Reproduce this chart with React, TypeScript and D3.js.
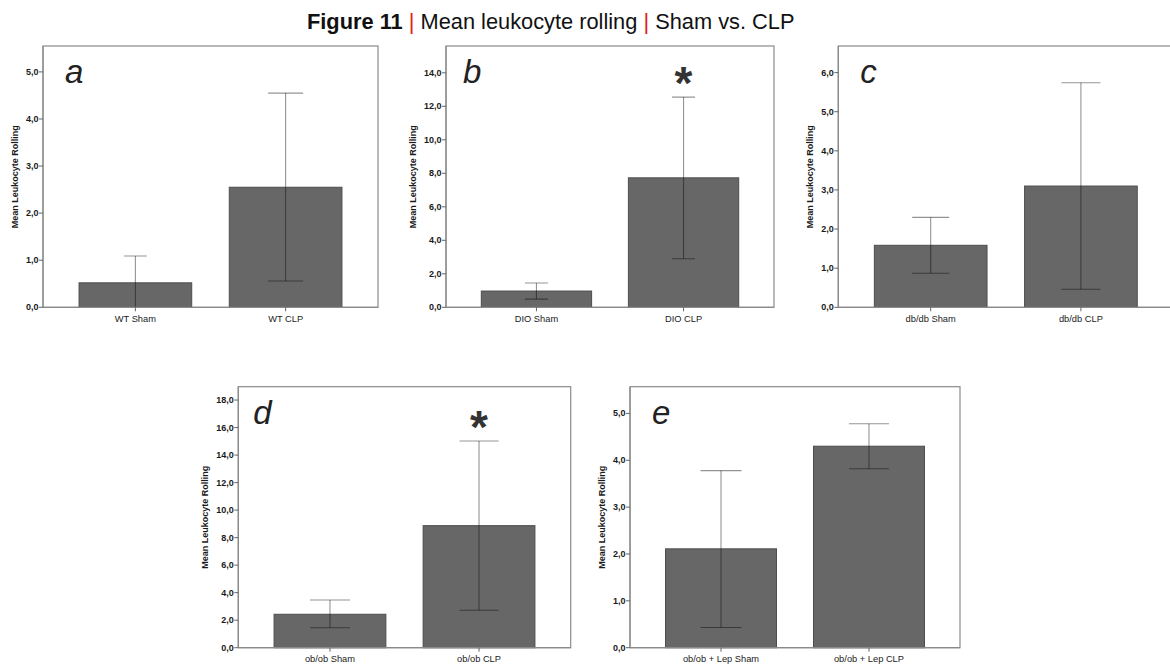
import React from "react";
import * as d3 from "d3";

// Mean leukocyte rolling, Sham vs. CLP, for five mouse strains
const panelLetters = ["a", "b", "c", "d", "e"];
const categoriesA = ["WT Sham", "WT CLP"];
const categoriesB = ["DIO Sham", "DIO CLP"];
const categoriesC = ["db/db Sham", "db/db CLP"];
const categoriesD = ["ob/ob Sham", "ob/ob CLP"];
const categoriesE = ["ob/ob + Lep Sham", "ob/ob + Lep CLP"];

const meansA = [0.52, 2.55];
const meansB = [0.97, 7.73];
const meansC = [1.585, 3.1];
const meansD = [2.43, 8.87];
const meansE = [2.11, 4.3];

const upperA = [1.09, 4.55];
const upperB = [1.45, 12.55];
const upperC = [2.3, 5.74];
const upperD = [3.47, 15.02];
const upperE = [3.78, 4.78];

const lowerA = [-0.05, 0.56];
const lowerB = [0.49, 2.9];
const lowerC = [0.87, 0.46];
const lowerD = [1.45, 2.72];
const lowerE = [0.43, 3.82];

const significant = [[false, false], [false, true], [false, false], [false, true], [false, false]];

const ticksA = [0, 1, 2, 3, 4, 5];
const ticksB = [0, 2, 4, 6, 8, 10, 12, 14];
const ticksC = [0, 1, 2, 3, 4, 5, 6];
const ticksD = [0, 2, 4, 6, 8, 10, 12, 14, 16, 18];
const ticksE = [0, 1, 2, 3, 4, 5];

// value at the top edge of each frame
const yTopA = 5.55;
const yTopB = 15.6;
const yTopC = 6.68;
const yTopD = 18.97;
const yTopE = 5.57;

const yLabel = "Mean Leukocyte Rolling";

// Frame geometry and cosmetic settings per panel
const layouts = [
  { x: 43, y: 46, w: 335, h: 261.3, labelX: 15, letterDx: 22, caps: [23, 35] },
  { x: 446, y: 46, w: 328, h: 261.3, labelX: 412.7, letterDx: 17, caps: [23, 23] },
  { x: 838.3, y: 46, w: 335, h: 261.3, labelX: 810, letterDx: 22, caps: [37, 39] },
  { x: 238.3, y: 386.7, w: 332.4, h: 261, labelX: 205, letterDx: 15, caps: [40, 39] },
  { x: 630, y: 386.7, w: 330, h: 261, labelX: 601.7, letterDx: 22, caps: [41, 40] },
];

const panelData = [
  { cats: categoriesA, means: meansA, upper: upperA, lower: lowerA, ticks: ticksA, yTop: yTopA },
  { cats: categoriesB, means: meansB, upper: upperB, lower: lowerB, ticks: ticksB, yTop: yTopB },
  { cats: categoriesC, means: meansC, upper: upperC, lower: lowerC, ticks: ticksC, yTop: yTopC },
  { cats: categoriesD, means: meansD, upper: upperD, lower: lowerD, ticks: ticksD, yTop: yTopD },
  { cats: categoriesE, means: meansE, upper: upperE, lower: lowerE, ticks: ticksE, yTop: yTopE },
];

const FONT = "'Liberation Sans', Arial, Helvetica, sans-serif";
const frameColor = "#8a8a8a";
const fmt = (v: number) => d3.format(".1f")(v).replace(".", ",");

function Panel({ idx }: { idx: number }) {
  const L = layouts[idx];
  const D = panelData[idx];
  const bottom = L.y + L.h;
  const y = d3.scaleLinear().domain([0, D.yTop]).range([bottom, L.y]);
  const x = d3
    .scaleBand<string>()
    .domain(D.cats)
    .range([L.x, L.x + L.w])
    .paddingInner(0.25)
    .paddingOuter(0.24);
  const clipId = `plot-clip-${idx}`;
  return (
    <g>
      <defs>
        <clipPath id={clipId}>
          <rect x={L.x} y={L.y} width={L.w} height={L.h} />
        </clipPath>
      </defs>
      <rect x={L.x} y={L.y} width={L.w} height={L.h} fill="#fff" stroke={frameColor} strokeWidth={1.2} />
      {D.cats.map((c, i) => (
        <rect
          key={c}
          x={x(c)}
          y={y(D.means[i])}
          width={x.bandwidth()}
          height={bottom - y(D.means[i])}
          fill="#676767"
          stroke="#4d4d4d"
          strokeWidth={1}
        />
      ))}
      <g clipPath={`url(#${clipId})`} stroke="#000" strokeOpacity={0.42} strokeWidth={1.1}>
        {D.cats.map((c, i) => {
          const cx = (x(c) as number) + x.bandwidth() / 2;
          const hw = L.caps[i] / 2;
          return (
            <g key={c}>
              <line x1={cx} x2={cx} y1={y(D.upper[i])} y2={y(D.lower[i])} />
              <line x1={cx - hw} x2={cx + hw} y1={y(D.upper[i])} y2={y(D.upper[i])} />
              <line x1={cx - hw} x2={cx + hw} y1={y(D.lower[i])} y2={y(D.lower[i])} />
            </g>
          );
        })}
      </g>
      {D.cats.map((c, i) =>
        significant[idx][i] ? (
          <text
            key={c}
            x={(x(c) as number) + x.bandwidth() / 2}
            y={y(D.upper[i]) + 2}
            textAnchor="middle"
            fontFamily={FONT}
            fontWeight="bold"
            fontSize={46}
            fill="#333"
          >
            *
          </text>
        ) : null
      )}
      {/* axes */}
      <line x1={L.x} x2={L.x} y1={L.y} y2={bottom} stroke={frameColor} strokeWidth={1.2} />
      <line x1={L.x} x2={L.x + L.w} y1={bottom} y2={bottom} stroke={frameColor} strokeWidth={1.2} />
      {D.ticks.map((t) => (
        <g key={t}>
          <line x1={L.x - 4} x2={L.x} y1={y(t)} y2={y(t)} stroke="#666" strokeWidth={1} />
          <text
            x={L.x - 4.5}
            y={y(t)}
            dy="0.34em"
            textAnchor="end"
            fontFamily={FONT}
            fontWeight="bold"
            fontSize={9}
            fill="#1a1a1a"
          >
            {fmt(t)}
          </text>
        </g>
      ))}
      {D.cats.map((c) => {
        const cx = (x(c) as number) + x.bandwidth() / 2;
        return (
          <g key={c}>
            <line x1={cx} x2={cx} y1={bottom} y2={bottom + 4} stroke="#666" strokeWidth={1} />
            <text x={cx} y={bottom + 14.4} textAnchor="middle" fontFamily={FONT} fontSize={9.3} fill="#1a1a1a">
              {c}
            </text>
          </g>
        );
      })}
      <text
        transform={`translate(${L.labelX},${L.y + L.h / 2}) rotate(-90)`}
        dy="0.34em"
        textAnchor="middle"
        fontFamily={FONT}
        fontWeight="bold"
        fontSize={9}
        fill="#1a1a1a"
      >
        {yLabel}
      </text>
      <text
        x={L.x + L.letterDx}
        y={L.y + 37}
        fontFamily={FONT}
        fontStyle="italic"
        fontSize={33}
        fill="#222"
      >
        {panelLetters[idx]}
      </text>
    </g>
  );
}

export default function App() {
  return (
    <div style={{ position: "absolute", left: 0, top: 0 }}>
      <svg width={1170} height={668} style={{ display: "block" }}>
        <rect width={1170} height={668} fill="#fff" />
        <text x={307} y={29} fontFamily={FONT} fontSize={21.8} fill="#111">
          <tspan fontWeight="bold">Figure 11</tspan>
          <tspan fill="#e3201b"> | </tspan>
          <tspan>Mean leukocyte rolling</tspan>
          <tspan fill="#e3201b"> | </tspan>
          <tspan>Sham vs. CLP</tspan>
        </text>
        {layouts.map((_, i) => (
          <Panel key={i} idx={i} />
        ))}
      </svg>
    </div>
  );
}
